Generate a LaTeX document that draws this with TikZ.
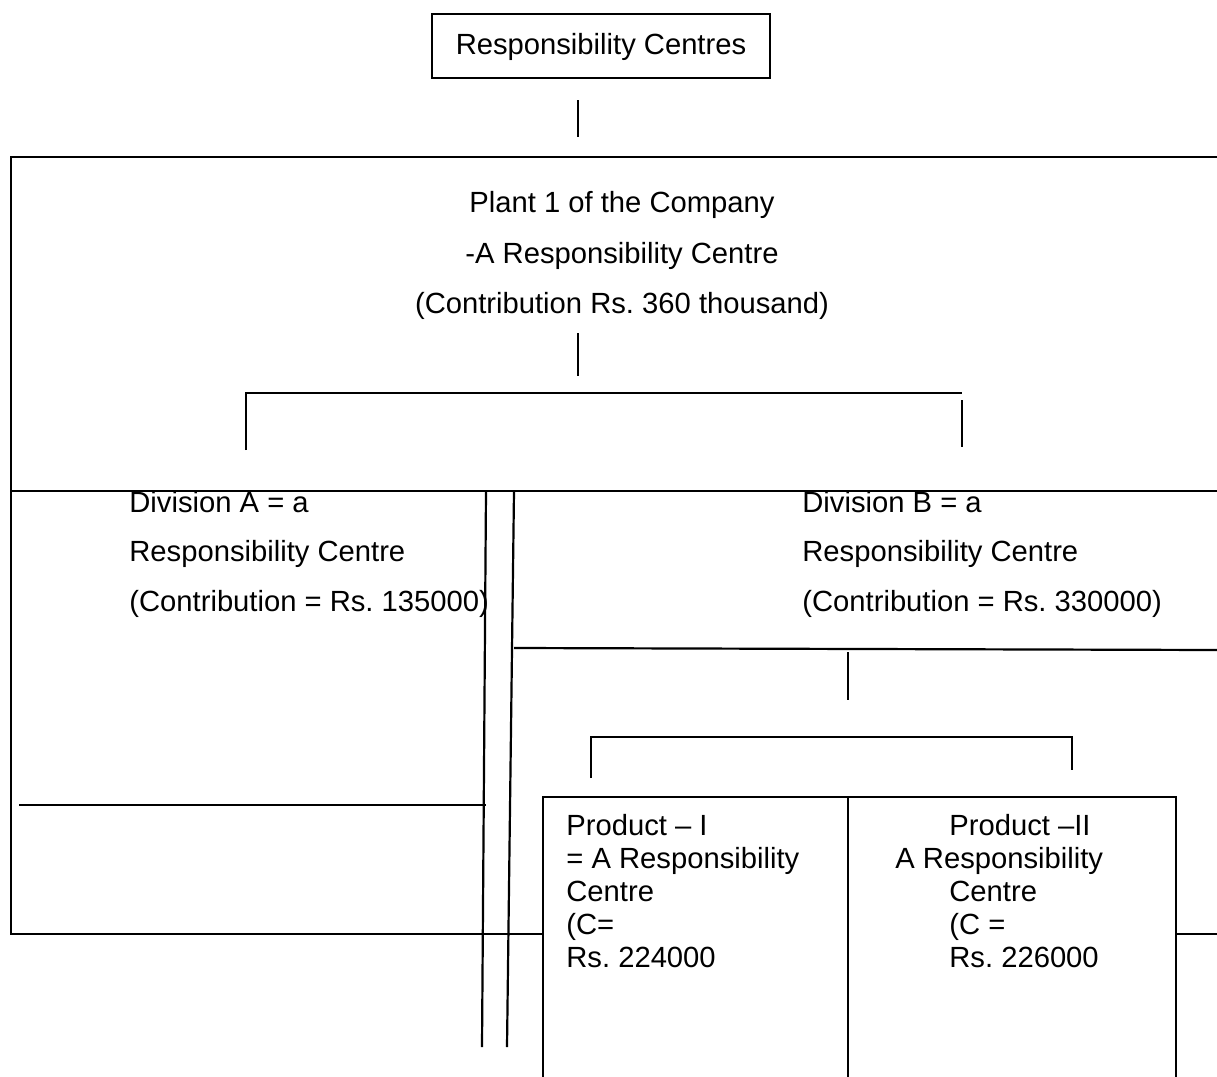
\documentclass[tikz,border=0pt]{standalone}
\usepackage{fontspec}
\setmainfont{Liberation Sans}
\frenchspacing
\begin{document}
\begin{tikzpicture}[x=0.5pt,y=-0.5pt,
  rule/.style={line width=1.1pt, black},
  txt/.style={anchor=base west, inner sep=0pt, font=\fontsize{14.6pt}{16pt}\selectfont},
  ctxt/.style={anchor=base, inner sep=0pt, font=\fontsize{14.6pt}{16pt}\selectfont}]
\useasboundingbox (0,0) rectangle (1217,1077);

% top box
\node[rule, draw, minimum width=169pt, minimum height=32pt, inner sep=0pt] (top) at (601,46) {};
\node[ctxt] (toptext) at (601,54) {Responsibility Centres};
\draw[rule] (578,100) -- (578,137);

% plant frame
\coordinate (pTL) at (11,157);
\coordinate (pTR) at (1217,157);
\coordinate (pBL) at (11,934);
\coordinate (pBR) at (543,934);
\draw[rule] (pTR) -- (pTL) -- (pBL) -- (pBR);
\draw[rule] (1176,934) -- (1217,934);

\node[ctxt] (plant1) at (622,212) {Plant 1 of the Company};
\node[ctxt] (plant2) at (622,263) {-A Responsibility Centre};
\node[ctxt] (plant3) at (622,313) {(Contribution Rs. 360 thousand)};
\draw[rule] (578,333) -- (578,376);

% division bracket
\draw[rule] (246,450) -- (246,393) -- (962,393);
\draw[rule] (962,400) -- (962,447);

% division band
\draw[rule] (11,491) -- (1217,491);
\node[txt] (divA1) at (129,512) {Division A = a};
\node[txt] (divA2) at (129,561) {Responsibility Centre};
\node[txt] (divA3) at (129,611) {(Contribution = Rs. 135000)};
\node[txt] (divB1) at (802,512) {Division B = a};
\node[txt] (divB2) at (802,561) {Responsibility Centre};
\node[txt] (divB3) at (802,611) {(Contribution = Rs. 330000)};

% double vertical separator
\draw[rule] (486,491) -- (482,1047);
\draw[rule] (514,491) -- (507,1047);

\draw[rule] (19,805) -- (486,805);
\draw[rule] (514,648) -- (1217,650);
\draw[rule] (848,652) -- (848,700);

% product bracket
\draw[rule] (591,778) -- (591,737) -- (1072,737) -- (1072,770);

% product boxes
\draw[rule] (543,1077) -- (543,797) -- (1176,797) -- (1176,1077);
\draw[rule] (848,797) -- (848,1077);

\node[txt] (p1a) at (566,835) {Product -- I};
\node[txt] (p1b) at (566,868) {= A Responsibility};
\node[txt] (p1c) at (566,901) {Centre};
\node[txt] (p1d) at (566,934) {(C=};
\node[txt] (p1e) at (566,967) {Rs. 224000};

\node[txt] (p2a) at (949,835) {Product --II};
\node[txt] (p2b) at (895,868) {A Responsibility};
\node[txt] (p2c) at (949,901) {Centre};
\node[txt] (p2d) at (949,934) {(C =};
\node[txt] (p2e) at (949,967) {Rs. 226000};
\end{tikzpicture}
\end{document}
